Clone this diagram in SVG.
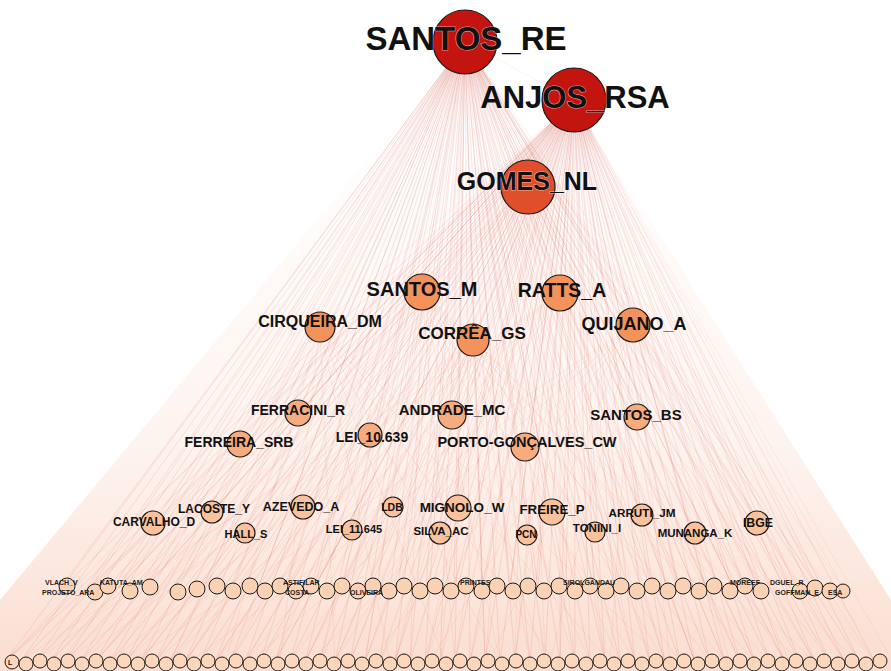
<svg xmlns="http://www.w3.org/2000/svg" width="891" height="671" viewBox="0 0 891 671">
<defs>
<linearGradient id="fade" gradientUnits="userSpaceOnUse" x1="0" y1="120" x2="0" y2="660">
<stop offset="0" stop-color="#f3a07a" stop-opacity="0"/>
<stop offset="0.6" stop-color="#f3a07a" stop-opacity="0.12"/>
<stop offset="1" stop-color="#f19a70" stop-opacity="0.32"/>
</linearGradient>
</defs>
<style>
.edge{fill:none;stroke:#cf2e1e;stroke-width:0.5;stroke-opacity:0.12;stroke-linejoin:round}
.edge2{fill:none;stroke:#d9442c;stroke-width:0.5;stroke-opacity:0.08;stroke-linejoin:round}
circle{stroke:#1a1a1a;stroke-width:1.2}
.c0{fill:#c3140f}
.c1{fill:#df4f2b}
.c2{fill:#f4925c}
.c3{fill:#f7ac80}
.c4{fill:#f9c29d}
.c5{fill:#fad1b2;stroke-width:1}
.c6{fill:#fbd6ba;stroke-width:1}
text{font-family:"Liberation Sans",Arial,sans-serif;font-weight:bold;fill:#111;text-anchor:middle}
.halo{stroke:#ffffff;stroke-opacity:0.55;stroke-width:1.2;paint-order:stroke}
.sm{font-size:7px;text-anchor:start;fill:#222}
</style>
<rect width="891" height="671" fill="#ffffff"/>
<g id="connectors">
<polygon points="465,42 574,100 891,600 891,671 0,671 0,600" fill="url(#fade)"/>
<path class="edge" d="M465 42L5 662 465 42 20 662 465 42 35 662 465 42 50 662 465 42 65 662 465 42 80 662 465 42 95 662 465 42 110 662 465 42 125 662 465 42 140 662 465 42 155 662 465 42 170 662 465 42 185 662 465 42 200 662 465 42 215 662 465 42 230 662 465 42 245 662 465 42 260 662 465 42 275 662 465 42 290 662 465 42 305 662 465 42 320 662 465 42 335 662 465 42 350 662 465 42 365 662 465 42 380 662 465 42 395 662 465 42 410 662 465 42 425 662 465 42 440 662 465 42 455 662 465 42 470 662 465 42 485 662 465 42 500 662 465 42 515 662 465 42 530 662 465 42 545 662 465 42 560 662 465 42 575 662 465 42 590 662 465 42 605 662 465 42 620 662 465 42 635 662 465 42 650 662 465 42 665 662 465 42 680 662 465 42 695 662 465 42 710 662 465 42 725 662 465 42 740 662 465 42 755 662 465 42 770 662 465 42 785 662 465 42 800 662 465 42 815 662 465 42 830 662 465 42 845 662 465 42 860 662 465 42 875 662"/>
<path class="edge" d="M574 100L5 662 574 100 20 662 574 100 35 662 574 100 50 662 574 100 65 662 574 100 80 662 574 100 95 662 574 100 110 662 574 100 125 662 574 100 140 662 574 100 155 662 574 100 170 662 574 100 185 662 574 100 200 662 574 100 215 662 574 100 230 662 574 100 245 662 574 100 260 662 574 100 275 662 574 100 290 662 574 100 305 662 574 100 320 662 574 100 335 662 574 100 350 662 574 100 365 662 574 100 380 662 574 100 395 662 574 100 410 662 574 100 425 662 574 100 440 662 574 100 455 662 574 100 470 662 574 100 485 662 574 100 500 662 574 100 515 662 574 100 530 662 574 100 545 662 574 100 560 662 574 100 575 662 574 100 590 662 574 100 605 662 574 100 620 662 574 100 635 662 574 100 650 662 574 100 665 662 574 100 680 662 574 100 695 662 574 100 710 662 574 100 725 662 574 100 740 662 574 100 755 662 574 100 770 662 574 100 785 662 574 100 800 662 574 100 815 662 574 100 830 662 574 100 845 662 574 100 860 662 574 100 875 662 574 100 889 655"/>
<path class="edge" d="M465 42L62 588 465 42 90 588 465 42 118 588 465 42 146 588 465 42 174 588 465 42 202 588 465 42 230 588 465 42 258 588 465 42 286 588 465 42 314 588 465 42 342 588 465 42 370 588 465 42 398 588 465 42 426 588 465 42 454 588 465 42 482 588 465 42 510 588 465 42 538 588 465 42 566 588 465 42 594 588 465 42 622 588 465 42 650 588 465 42 678 588 465 42 706 588 465 42 734 588 465 42 762 588 465 42 790 588 465 42 818 588 465 42 843 588"/>
<path class="edge" d="M574 100L62 588 574 100 90 588 574 100 118 588 574 100 146 588 574 100 174 588 574 100 202 588 574 100 230 588 574 100 258 588 574 100 286 588 574 100 314 588 574 100 342 588 574 100 370 588 574 100 398 588 574 100 426 588 574 100 454 588 574 100 482 588 574 100 510 588 574 100 538 588 574 100 566 588 574 100 594 588 574 100 622 588 574 100 650 588 574 100 678 588 574 100 706 588 574 100 734 588 574 100 762 588 574 100 790 588 574 100 818 588 574 100 843 588"/>
<path class="edge" d="M465 42L574 100M465 42L528 187 574 100M465 42L422 292 574 100 560 293 465 42 320 327 574 100 473 340 465 42 633 325 574 100 422 292M465 42L298 413 574 100 452 415 465 42 637 417 574 100 238 443 465 42 370 435 574 100 525 447 465 42 153 523 574 100 212 512 465 42 245 533 574 100 303 507 465 42 393 507 574 100 352 530 465 42 458 508 574 100 440 533 465 42 552 512 574 100 527 535 465 42 595 532 574 100 642 515 465 42 695 533 574 100 757 523 465 42 757 523"/>
<path class="edge2" d="M528 187L5 662 528 187 35 662 528 187 65 662 528 187 95 662 528 187 125 662 528 187 155 662 528 187 185 662 528 187 215 662 528 187 245 662 528 187 275 662 528 187 305 662 528 187 335 662 528 187 365 662 528 187 395 662 528 187 425 662 528 187 455 662 528 187 485 662 528 187 515 662 528 187 545 662 528 187 575 662 528 187 605 662 528 187 635 662 528 187 665 662 528 187 695 662 528 187 725 662 528 187 755 662 528 187 785 662 528 187 815 662 528 187 845 662 528 187 875 662"/>
<path class="edge2" d="M422 292L5 662 422 292 50 662 422 292 95 662 422 292 140 662 422 292 185 662 422 292 230 662 422 292 275 662 422 292 320 662 422 292 365 662 422 292 410 662 422 292 455 662 422 292 500 662 422 292 545 662 422 292 590 662 422 292 635 662 422 292 680 662 422 292 725 662 422 292 770 662 422 292 815 662 422 292 860 662"/>
<path class="edge2" d="M560 293L20 662 560 293 65 662 560 293 110 662 560 293 155 662 560 293 200 662 560 293 245 662 560 293 290 662 560 293 335 662 560 293 380 662 560 293 425 662 560 293 470 662 560 293 515 662 560 293 560 662 560 293 605 662 560 293 650 662 560 293 695 662 560 293 740 662 560 293 785 662 560 293 830 662 560 293 875 662"/>
<path class="edge2" d="M473 340L35 662 473 340 80 662 473 340 125 662 473 340 170 662 473 340 215 662 473 340 260 662 473 340 305 662 473 340 350 662 473 340 395 662 473 340 440 662 473 340 485 662 473 340 530 662 473 340 575 662 473 340 620 662 473 340 665 662 473 340 710 662 473 340 755 662 473 340 800 662 473 340 845 662"/>
<path class="edge2" d="M320 327L5 662 320 327 60 662 320 327 115 662 320 327 170 662 320 327 225 662 320 327 280 662 320 327 335 662 320 327 390 662 320 327 445 662 320 327 500 662 320 327 555 662 320 327 610 662 320 327 665 662 320 327 720 662M633 325L130 662 633 325 190 662 633 325 250 662 633 325 310 662 633 325 370 662 633 325 430 662 633 325 490 662 633 325 550 662 633 325 610 662 633 325 670 662 633 325 730 662 633 325 790 662 633 325 850 662 633 325 885 662"/>
</g>
<g id="row6">
<circle class="c6" cx="12" cy="662" r="7"/><circle class="c6" cx="26" cy="664" r="7"/><circle class="c6" cx="40" cy="661" r="7"/><circle class="c6" cx="54" cy="664" r="7"/><circle class="c6" cx="68" cy="661" r="7"/><circle class="c6" cx="82" cy="664" r="7"/><circle class="c6" cx="96" cy="661" r="7"/><circle class="c6" cx="110" cy="664" r="7"/><circle class="c6" cx="124" cy="661" r="7"/><circle class="c6" cx="138" cy="664" r="7"/><circle class="c6" cx="152" cy="661" r="7"/><circle class="c6" cx="166" cy="664" r="7"/><circle class="c6" cx="180" cy="661" r="7"/><circle class="c6" cx="194" cy="664" r="7"/><circle class="c6" cx="208" cy="661" r="7"/><circle class="c6" cx="222" cy="664" r="7"/><circle class="c6" cx="236" cy="661" r="7"/><circle class="c6" cx="250" cy="664" r="7"/><circle class="c6" cx="264" cy="661" r="7"/><circle class="c6" cx="278" cy="664" r="7"/><circle class="c6" cx="292" cy="661" r="7"/><circle class="c6" cx="306" cy="664" r="7"/><circle class="c6" cx="320" cy="661" r="7"/><circle class="c6" cx="334" cy="664" r="7"/><circle class="c6" cx="348" cy="661" r="7"/><circle class="c6" cx="362" cy="664" r="7"/><circle class="c6" cx="376" cy="661" r="7"/><circle class="c6" cx="390" cy="664" r="7"/><circle class="c6" cx="404" cy="661" r="7"/><circle class="c6" cx="418" cy="664" r="7"/><circle class="c6" cx="432" cy="661" r="7"/><circle class="c6" cx="446" cy="664" r="7"/><circle class="c6" cx="460" cy="661" r="7"/><circle class="c6" cx="474" cy="664" r="7"/><circle class="c6" cx="488" cy="661" r="7"/><circle class="c6" cx="502" cy="664" r="7"/><circle class="c6" cx="516" cy="661" r="7"/><circle class="c6" cx="530" cy="664" r="7"/><circle class="c6" cx="544" cy="661" r="7"/><circle class="c6" cx="558" cy="664" r="7"/><circle class="c6" cx="572" cy="661" r="7"/><circle class="c6" cx="586" cy="664" r="7"/><circle class="c6" cx="600" cy="661" r="7"/><circle class="c6" cx="614" cy="664" r="7"/><circle class="c6" cx="628" cy="661" r="7"/><circle class="c6" cx="642" cy="664" r="7"/><circle class="c6" cx="656" cy="661" r="7"/><circle class="c6" cx="670" cy="664" r="7"/><circle class="c6" cx="684" cy="661" r="7"/><circle class="c6" cx="698" cy="664" r="7"/><circle class="c6" cx="712" cy="661" r="7"/><circle class="c6" cx="726" cy="664" r="7"/><circle class="c6" cx="740" cy="661" r="7"/><circle class="c6" cx="754" cy="664" r="7"/><circle class="c6" cx="768" cy="661" r="7"/><circle class="c6" cx="782" cy="664" r="7"/><circle class="c6" cx="796" cy="661" r="7"/><circle class="c6" cx="810" cy="664" r="7"/><circle class="c6" cx="824" cy="661" r="7"/><circle class="c6" cx="838" cy="664" r="7"/><circle class="c6" cx="852" cy="661" r="7"/><circle class="c6" cx="866" cy="664" r="7"/><circle class="c6" cx="880" cy="661" r="7"/>
<text x="8" y="665" style="font-size:7px;text-anchor:start">L</text>
</g>
<g id="row5">
<circle class="c5" cx="67" cy="586" r="8"/><circle class="c5" cx="95" cy="592" r="8"/><circle class="c5" cx="108" cy="586" r="8"/><circle class="c5" cx="130" cy="591" r="8"/><circle class="c5" cx="150" cy="587" r="8"/><circle class="c5" cx="178" cy="592" r="8"/><circle class="c5" cx="197" cy="589" r="8"/><circle class="c5" cx="217" cy="586" r="8"/><circle class="c5" cx="233" cy="591" r="8"/><circle class="c5" cx="250" cy="586" r="8"/><circle class="c5" cx="265" cy="591" r="8"/><circle class="c5" cx="280" cy="586" r="8"/><circle class="c5" cx="296" cy="591" r="8"/><circle class="c5" cx="311" cy="586" r="8"/><circle class="c5" cx="327" cy="591" r="8"/><circle class="c5" cx="342" cy="586" r="8"/><circle class="c5" cx="358" cy="591" r="8"/><circle class="c5" cx="373" cy="586" r="8"/><circle class="c5" cx="389" cy="591" r="8"/><circle class="c5" cx="404" cy="586" r="8"/><circle class="c5" cx="420" cy="591" r="8"/><circle class="c5" cx="435" cy="586" r="8"/><circle class="c5" cx="451" cy="591" r="8"/><circle class="c5" cx="466" cy="586" r="8"/><circle class="c5" cx="482" cy="591" r="8"/><circle class="c5" cx="497" cy="586" r="8"/><circle class="c5" cx="513" cy="591" r="8"/><circle class="c5" cx="528" cy="586" r="8"/><circle class="c5" cx="544" cy="591" r="8"/><circle class="c5" cx="559" cy="586" r="8"/><circle class="c5" cx="575" cy="591" r="8"/><circle class="c5" cx="590" cy="586" r="8"/><circle class="c5" cx="606" cy="591" r="8"/><circle class="c5" cx="621" cy="586" r="8"/><circle class="c5" cx="637" cy="591" r="8"/><circle class="c5" cx="652" cy="586" r="8"/><circle class="c5" cx="668" cy="591" r="8"/><circle class="c5" cx="683" cy="586" r="8"/><circle class="c5" cx="699" cy="591" r="8"/><circle class="c5" cx="714" cy="586" r="8"/><circle class="c5" cx="730" cy="591" r="8"/><circle class="c5" cx="745" cy="586" r="8"/><circle class="c5" cx="761" cy="591" r="8"/><circle class="c5" cx="800" cy="591" r="8"/><circle class="c5" cx="815" cy="588" r="8"/><circle class="c5" cx="830" cy="591" r="8"/><circle class="c5" cx="843" cy="591" r="7"/>
<text class="sm" x="45" y="585">VLACH_V</text>
<text class="sm" x="100" y="585">KATUTA_AM</text>
<text class="sm" x="42" y="595">PROJETO_ARA</text>
<text class="sm" x="283" y="585">ASTIFILAR</text>
<text class="sm" x="285" y="595">COSTA</text>
<text class="sm" x="350" y="595">OLIVEIRA</text>
<text class="sm" x="460" y="585">PRINTES</text>
<text class="sm" x="563" y="585">SIROLGANDAU</text>
<text class="sm" x="730" y="585">MOREEF</text>
<text class="sm" x="770" y="585">DGUEL_R</text>
<text class="sm" x="775" y="595">GOFFMAN_E</text>
<text class="sm" x="828" y="595">ESA</text>
</g>
<g id="n-carvalho_d"><circle class="c4" cx="153" cy="523" r="12"/><text x="154" y="526" style="font-size:12px">CARVALHO_D</text></g>
<g id="n-lacoste_y"><circle class="c4" cx="212" cy="512" r="11"/><text x="214" y="513" style="font-size:12px">LACOSTE_Y</text></g>
<g id="n-hall_s"><circle class="c4" cx="245" cy="533" r="10"/><text x="246" y="538" style="font-size:11px">HALL_S</text></g>
<g id="n-azevedo_a"><circle class="c4" cx="303" cy="507" r="12"/><text x="301" y="511" style="font-size:12.5px">AZEVEDO_A</text></g>
<g id="n-ldb"><circle class="c4" cx="393" cy="507" r="10"/><text x="392" y="511" style="font-size:10.5px">LDB</text></g>
<g id="n-lei_11645"><circle class="c4" cx="352" cy="530" r="10"/><text x="354" y="533" style="font-size:11px">LEI_11.645</text></g>
<g id="n-mignolo_w"><circle class="c4" cx="458" cy="508" r="13"/><text x="462" y="512" style="font-size:13.5px">MIGNOLO_W</text></g>
<g id="n-silva_ac"><circle class="c4" cx="440" cy="533" r="11"/><text x="441" y="535" style="font-size:11.5px">SILVA_AC</text></g>
<g id="n-freire_p"><circle class="c4" cx="552" cy="512" r="13"/><text x="552" y="514" style="font-size:13.3px">FREIRE_P</text></g>
<g id="n-pcn"><circle class="c4" cx="527" cy="535" r="10"/><text x="526" y="538" style="font-size:10px">PCN</text></g>
<g id="n-tonini_i"><circle class="c4" cx="595" cy="532" r="10"/><text x="597" y="532" style="font-size:11.5px">TONINI_I</text></g>
<g id="n-arruti_jm"><circle class="c4" cx="642" cy="515" r="11"/><text x="642" y="517" style="font-size:11.7px">ARRUTI_JM</text></g>
<g id="n-munanga_k"><circle class="c4" cx="695" cy="533" r="11"/><text x="695" y="537" style="font-size:11.5px">MUNANGA_K</text></g>
<g id="n-ibge"><circle class="c4" cx="757" cy="523" r="12"/><text x="758" y="527" style="font-size:12.3px">IBGE</text></g>
<g id="n-ferracini_r"><circle class="c3" cx="298" cy="413" r="13"/><text x="298" y="415" style="font-size:14px">FERRACINI_R</text></g>
<g id="n-andrade_mc"><circle class="c3" cx="452" cy="415" r="14"/><text x="452" y="415" style="font-size:15px">ANDRADE_MC</text></g>
<g id="n-santos_bs"><circle class="c3" cx="637" cy="417" r="13"/><text x="636" y="420" style="font-size:15px">SANTOS_BS</text></g>
<g id="n-ferreira_srb"><circle class="c3" cx="240" cy="444" r="13"/><text x="239" y="447" style="font-size:14px">FERREIRA_SRB</text></g>
<g id="n-lei_10639"><circle class="c3" cx="370" cy="435" r="12"/><text x="372" y="442" style="font-size:14px">LEI_10.639</text></g>
<g id="n-porto_goncalves_cw"><circle class="c3" cx="525" cy="447" r="14"/><text x="527" y="447" style="font-size:14.5px">PORTO-GONÇALVES_CW</text></g>
<g id="n-santos_m"><circle class="c2" cx="422" cy="292" r="18"/><text x="422" y="296" style="font-size:20px">SANTOS_M</text></g>
<g id="n-ratts_a"><circle class="c2" cx="560" cy="293" r="18"/><text x="562" y="297" style="font-size:19.5px">RATTS_A</text></g>
<g id="n-cirqueira_dm"><circle class="c2" cx="320" cy="327" r="15"/><text x="320" y="327" style="font-size:16px">CIRQUEIRA_DM</text></g>
<g id="n-correa_gs"><circle class="c2" cx="473" cy="340" r="16"/><text x="472" y="339" style="font-size:17px">CORRÊA_GS</text></g>
<g id="n-quijano_a"><circle class="c2" cx="633" cy="325" r="17"/><text x="634" y="330" style="font-size:18px">QUIJANO_A</text></g>
<g id="n-gomes_nl"><circle class="c1" cx="528" cy="187" r="27"/><text class="halo" x="527" y="190" style="font-size:25px">GOMES_NL</text></g>
<g id="n-anjos_rsa"><circle class="c0" cx="574" cy="100" r="32"/><text class="halo" x="575" y="108" style="font-size:31px">ANJOS_RSA</text></g>
<g id="n-santos_re"><circle class="c0" cx="465" cy="42" r="32"/><text class="halo" x="466" y="50" style="font-size:33px">SANTOS_RE</text></g>
</svg>
